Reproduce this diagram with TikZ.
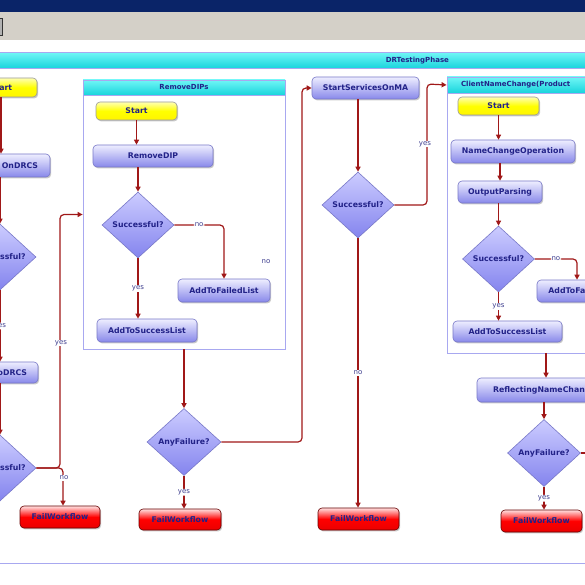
\documentclass[tikz,border=0pt]{standalone}
\usepackage{fontspec}
\setsansfont{DejaVu Sans}
\usetikzlibrary{arrows.meta,shapes.geometric,shadows}
\definecolor{navy}{HTML}{0A2468}
\definecolor{wingray}{HTML}{D4D0C8}
\definecolor{frame}{HTML}{A8A8F0}
\definecolor{cyanA}{HTML}{70F6F6}
\definecolor{cyanB}{HTML}{18D4DC}
\definecolor{txt}{HTML}{222288}
\definecolor{wireC}{HTML}{A01818}
\definecolor{actTop}{HTML}{EEEEFF}
\definecolor{actBot}{HTML}{8888EA}
\definecolor{actLine}{HTML}{7878C8}
\definecolor{dTop}{HTML}{CCCCFF}
\definecolor{dBot}{HTML}{8484EE}
\definecolor{lbl}{HTML}{404090}
\begin{document}
\begin{tikzpicture}[x=1pt,y=-1pt,
  act/.style={rectangle, rounded corners=4pt, draw=actLine, line width=0.6pt,
    top color=actTop, bottom color=actBot, text=txt,
    font=\sffamily\bfseries\fontsize{7.8}{9}\selectfont, inner sep=0pt,
    drop shadow={shadow xshift=1.2pt, shadow yshift=-1.4pt, fill=black!35, opacity=0.6}},
  startbox/.style={act, draw=black!40, top color=yellow!30!white, bottom color=yellow!92!orange, middle color=yellow},
  failbox/.style={act, draw=red!40!black, top color=red!12!white, bottom color=red!92!black, middle color=red},
  dec/.style={diamond, draw=actLine, line width=0.6pt, top color=dTop, bottom color=dBot,
    text=txt, font=\sffamily\bfseries\fontsize{7.8}{9}\selectfont, inner sep=0pt,
    minimum width=72pt, minimum height=66pt},
  cont/.style={rectangle, draw=frame, fill=white, line width=0.8pt, inner sep=0pt},
  head/.style={rectangle, draw=frame, line width=0.8pt, top color=cyanA, bottom color=cyanB,
    text=txt, font=\sffamily\bfseries\fontsize{7}{8}\selectfont, inner sep=0pt},
  wire/.style={draw=wireC, line width=1.2pt, rounded corners=4pt, -{Triangle[length=5pt,width=5pt]}},
  bare/.style={draw=wireC, line width=1.2pt, rounded corners=4pt},
  lab/.style={fill=white, inner sep=0.8pt, text=lbl, font=\sffamily\fontsize{7}{8}\selectfont}
]
\useasboundingbox (0,0) rectangle (585,585);
\clip (0,0) rectangle (585,585);
% window chrome
\fill[white] (0,0) rectangle (585,585);
\fill[navy] (0,0) rectangle (585,12);
\fill[wingray] (0,12) rectangle (585,40);
\filldraw[fill=gray!60, draw=gray!40!black] (-3,18) rectangle (2,35);

% outer container
\node[cont, anchor=north west, minimum width=854pt, minimum height=511pt] (dr) at (-10,52) {};
\node[head, anchor=north, minimum width=854pt, minimum height=16pt] (drh) at (dr.north) {DRTestingPhase};

% RemoveDIPs container
\node[cont, minimum width=202pt, minimum height=269pt] (rd) at (184,214.5) {};
\node[head, anchor=north, minimum width=202pt, minimum height=15pt] (rdh) at (rd.north) {RemoveDIPs};

% ClientNameChange container
\node[cont, minimum width=198pt, minimum height=276pt] (cn) at (546,215) {};
\node[head, anchor=north, minimum width=198pt, minimum height=16pt, text width=170pt, align=left] (cnh) at (cn.north) {ClientNameChange(Product};

% left column
\node[startbox, minimum width=72pt, minimum height=19pt] (s0) at (1,87.5) {Start};
\node[act, minimum width=120pt, minimum height=23pt, text width=96pt, align=right] (n1) at (-10,165.5) {OnDRCS};
\node[dec] (d1) at (0,257) {Successful?};
\node[act, minimum width=108pt, minimum height=21pt, text width=86pt, align=right] (n2) at (-16,372.5) {oDRCS};
\node[dec] (d2) at (0,468) {Successful?};
\node[failbox, minimum width=80pt, minimum height=22pt] (f1) at (60,517) {FailWorkflow};

% RemoveDIPs content
\node[startbox, minimum width=81pt, minimum height=18pt] (s1) at (136.5,111) {Start};
\node[act, minimum width=120pt, minimum height=22pt] (a1) at (153,156) {RemoveDIP};
\node[dec] (d3) at (138,225) {Successful?};
\node[act, minimum width=92pt, minimum height=23pt] (a2) at (224,290.5) {AddToFailedList};
\node[act, minimum width=100pt, minimum height=23pt] (a3) at (147,330.5) {AddToSuccessList};
\node[lab] (nostray) at (266,262) {no};

\node[dec, minimum width=74pt, minimum height=67pt] (d4) at (184,442) {AnyFailure?};
\node[failbox, minimum width=82pt, minimum height=21pt] (f2) at (180,519.5) {FailWorkflow};

% middle
\node[act, minimum width=107pt, minimum height=22pt] (a4) at (365.5,88) {StartServicesOnMA};
\node[dec] (d5) at (358,205) {Successful?};
\node[failbox, minimum width=81pt, minimum height=22pt] (f3) at (358.5,519) {FailWorkflow};

% ClientNameChange content
\node[startbox, minimum width=81pt, minimum height=18pt] (s2) at (498.5,106) {Start};
\node[act, minimum width=124pt, minimum height=23pt] (a5) at (513,151.5) {NameChangeOperation};
\node[act, minimum width=84pt, minimum height=22pt] (a6) at (500,192) {OutputParsing};
\node[dec] (d6) at (498.5,259) {Successful?};
\node[act, minimum width=92pt, minimum height=22pt] (a7) at (583,291) {AddToFailedList};
\node[act, minimum width=109pt, minimum height=21pt] (a8) at (507.5,331.5) {AddToSuccessList};

\node[act, minimum width=139pt, minimum height=24pt, text width=107pt, align=left] (a9) at (546.5,390) {ReflectingNameChan};
\node[dec, minimum width=73pt, minimum height=67pt] (d7) at (544,453) {AnyFailure?};
\node[failbox, minimum width=81pt, minimum height=22pt] (f4) at (541.5,521) {FailWorkflow};
\coordinate (d7out) at (600,453);
\coordinate (nobend) at (63,468);

% connectors: left column
\draw[wire] (s0.south) -- (s0.south |- n1.north);
\draw[wire] (d1.north |- n1.south) -- (d1.north);
\draw[wire] (d1.south) -- node[lab]{yes} (d1.south |- n2.north);
\draw[wire] (d2.north |- n2.south) -- (d2.north);
\draw[wire] (d2.east) -- (60,468) -- (60,214.5) -- (rd.west);
\node[lab] at (61,343) {yes};
\draw[wire] (d2.east) -- (nobend) -- (nobend |- f1.north);
\node[lab] at (64,478) {no};

% RemoveDIPs
\draw[wire] (s1.south) -- (s1.south |- a1.north);
\draw[wire] (d3.north |- a1.south) -- (d3.north);
\draw[wire] (d3.east) -| node[lab, pos=0.25]{no} (a2.north);
\draw[wire] (d3.south) -- node[lab]{yes} (d3.south |- a3.north);
\draw[wire] (rd.south) -- (d4.north);
\draw[wire] (d4.east) -- (302,442) -- (302,88) -- (a4.west);
\draw[wire] (d4.south) -- node[lab]{yes} (d4.south |- f2.north);

% middle
\draw[wire] (d5.north |- a4.south) -- (d5.north);
\draw[wire] (d5.east) -- (427,205) -- (427,84) -- (cnh.west);
\node[lab] at (425,144) {yes};
\draw[wire] (d5.south) -- node[lab]{no} (d5.south |- f3.north);

% ClientNameChange
\draw[wire] (s2.south) -- (s2.south |- a5.north);
\draw[wire] (a6.north |- a5.south) -- (a6.north);
\draw[wire] (d6.north |- a6.south) -- (d6.north);
\draw[wire] (d6.east) -| node[lab, pos=0.25]{no} ([xshift=-6pt]a7.north);
\draw[wire] (d6.south) -- node[lab]{yes} (d6.south |- a8.north);
\draw[wire] (cn.south) -- (cn.south |- a9.north);
\draw[wire] (d7.north |- a9.south) -- (d7.north);
\draw[bare] (d7.east) -- (d7out);
\draw[wire] (d7.south) -- node[lab]{yes} (d7.south |- f4.north);
\end{tikzpicture}
\end{document}
